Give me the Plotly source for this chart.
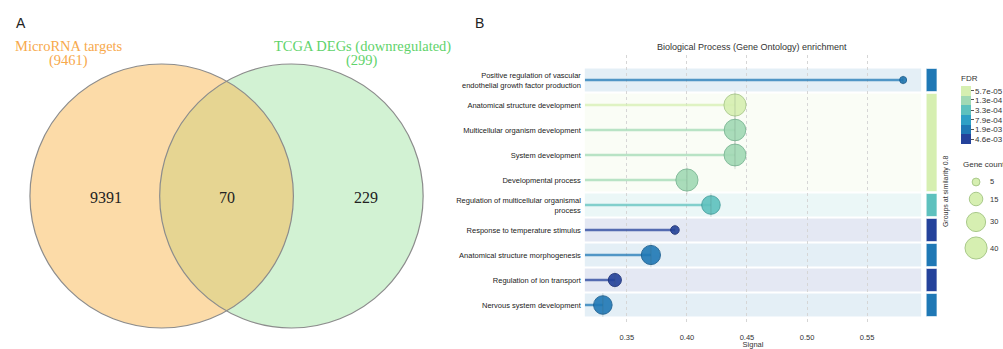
import math
import plotly.graph_objects as go

W, H = 1003, 349

# ---------------- Panel A data (Venn) ----------------
venn_set_names = ["MicroRNA targets", "TCGA DEGs (downregulated)"]
venn_set_sizes = [9461, 299]
venn_region_counts = [9391, 70, 229]   # left only, shared, right only

# ---------------- Panel B data (GO enrichment) ----------------
terms = [
    "Positive regulation of vascular<br>endothelial growth factor production",
    "Anatomical structure development",
    "Multicellular organism development",
    "System development",
    "Developmental process",
    "Regulation of multicellular organismal<br>process",
    "Response to temperature stimulus",
    "Anatomical structure morphogenesis",
    "Regulation of ion transport",
    "Nervous system development",
]
signal = [0.58, 0.44, 0.44, 0.44, 0.40, 0.42, 0.39, 0.37, 0.34, 0.33]
gene_count = [4, 40, 38, 39, 40, 28, 6, 30, 14, 28]
fdr = [1.9e-03, 5.7e-05, 1.3e-04, 1.3e-04, 1.3e-04, 3.3e-04, 4.6e-03, 1.9e-03, 4.6e-03, 1.9e-03]
group = [1, 2, 2, 2, 2, 3, 4, 5, 6, 7]
x_ticks = [0.35, 0.40, 0.45, 0.50, 0.55]
fdr_legend = [5.7e-05, 1.3e-04, 3.3e-04, 7.9e-04, 1.9e-03, 4.6e-03]
fdr_legend_text = ["5.7e-05", "1.3e-04", "3.3e-04", "7.9e-04", "1.9e-03", "4.6e-03"]
count_legend = [5, 15, 30, 40]

# ---------------- styles ----------------
fdr_colors = ["#d6efb1", "#a1d9b4", "#5ec1be", "#2fa0c6", "#1f78b5", "#24429b"]
fdr_edges = ["#a9c98a", "#78b592", "#3d9c9a", "#1f7ea0", "#175c8f", "#1a2f78"]
X_LO, X_HI = 0.315, 0.595


def hex_rgba(h, a):
    h = h.lstrip("#")
    return "rgba(%d,%d,%d,%.3f)" % (int(h[0:2], 16), int(h[2:4], 16), int(h[4:6], 16), a)


def fdr_bin(f):
    lv = math.log10(f)
    return min(range(len(fdr_legend)), key=lambda k: abs(math.log10(fdr_legend[k]) - lv))


def diam(c):
    return 3.5 * math.sqrt(c)


rows = list(range(len(terms)))
row_color = [fdr_colors[fdr_bin(f)] for f in fdr]
row_edge = [fdr_edges[fdr_bin(f)] for f in fdr]
vals = [-math.log10(f) for f in fdr]
leg_vals = [-math.log10(f) for f in fdr_legend]
step = (max(leg_vals) - min(leg_vals)) / (len(leg_vals) - 1)
cmin = min(leg_vals) - step / 2
cmax = max(leg_vals) + step / 2
n = len(fdr_colors)
cs = []
for k, col in enumerate(reversed(fdr_colors)):
    cs.append([k / n, col])
    cs.append([(k + 1) / n, col])

fig = go.Figure()

# ---------------- Panel A ----------------
c1 = (162.0, 196.0)
c2 = (292.0, 196.0)
R = 132.0
shapes = []
shapes.append(dict(type="circle", xref="x2", yref="y2", x0=c1[0] - R, x1=c1[0] + R,
                   y0=c1[1] - R, y1=c1[1] + R, fillcolor="#fcdba8", line=dict(width=0), layer="below"))
shapes.append(dict(type="circle", xref="x2", yref="y2", x0=c2[0] - R, x1=c2[0] + R,
                   y0=c2[1] - R, y1=c2[1] + R, fillcolor="#d2f2d3", line=dict(width=0), layer="below"))
d = c2[0] - c1[0]
a = math.degrees(math.acos((d / 2) / R))
pts = []
for i in range(61):
    t = math.radians(-a + 2 * a * i / 60)
    pts.append((c1[0] + R * math.cos(t), c1[1] + R * math.sin(t)))
for i in range(61):
    t = math.radians(180 - a + 2 * a * i / 60)
    pts.append((c2[0] + R * math.cos(t), c2[1] + R * math.sin(t)))
path = "M " + " L ".join("%.2f,%.2f" % p for p in pts) + " Z"
shapes.append(dict(type="path", xref="x2", yref="y2", path=path, fillcolor="#e6d592",
                   line=dict(width=0), layer="below"))
for c in (c1, c2):
    shapes.append(dict(type="circle", xref="x2", yref="y2", x0=c[0] - R, x1=c[0] + R,
                       y0=c[1] - R, y1=c[1] + R, line=dict(color="#8c8c8c", width=1.2)))

annotations = []
serif = "Liberation Serif, Times New Roman, serif"


def ann(x, y, text, size, color, family, xref="paper", yref="paper", xanchor="center", **kw):
    if xref == "paper":
        x = x / W
    if yref == "paper":
        y = 1 - y / H
    d = dict(x=x, y=y, xref=xref, yref=yref, text=text, showarrow=False,
             xanchor=xanchor, yanchor="middle",
             font=dict(family=family, size=size, color=color))
    d.update(kw)
    annotations.append(d)


ann(69, 46, venn_set_names[0], 14.5, "#f7a94c", serif, "x2", "y2")
ann(69, 60, "(%d)" % venn_set_sizes[0], 14.5, "#f7a94c", serif, "x2", "y2")
ann(363, 46, venn_set_names[1], 14.5, "#5fd36b", serif, "x2", "y2")
ann(363, 60, "(%d)" % venn_set_sizes[1], 14.5, "#5fd36b", serif, "x2", "y2")
for xx, cnt in zip([106, 227, 367], venn_region_counts):
    ann(xx, 197, str(cnt), 16, "#222222", serif, "x2", "y2")

sans = "Liberation Sans, Arial, sans-serif"
ann(21, 23, "A", 14, "#222", sans)
ann(480, 23, "B", 14, "#222", sans)

# ---------------- Panel B ----------------
for g in sorted(set(group)):
    idx = [i for i in rows if group[i] == g]
    best = min(idx, key=lambda i: fdr[i])
    gc = row_color[best]
    y0, y1 = min(idx) - 0.46, max(idx) + 0.46
    shapes.append(dict(type="rect", xref="x3 domain", yref="y3", x0=0, x1=1, y0=y0, y1=y1,
                       fillcolor=hex_rgba(gc, 0.12), line=dict(width=0), layer="below"))
    shapes.append(dict(type="rect", xref="x3 domain", yref="y3", x0=1.015, x1=1.047, y0=y0, y1=y1,
                       fillcolor=gc, line=dict(width=0.6, color="white")))

for i in rows:
    fig.add_trace(go.Scatter(x=[X_LO, signal[i]], y=[i, i], mode="lines", xaxis="x3", yaxis="y3",
                             line=dict(color=hex_rgba(row_color[i], 0.75), width=2.6),
                             hoverinfo="skip", showlegend=False))

sizes = [diam(c) for c in gene_count]
fig.add_trace(go.Scatter(
    x=signal, y=rows, mode="markers", xaxis="x3", yaxis="y3", showlegend=False,
    marker=dict(size=sizes, color=vals, colorscale=cs, cmin=cmin, cmax=cmax, opacity=0.9,
                line=dict(color=row_edge, width=1),
                showscale=True,
                colorbar=dict(x=963 / W, xanchor="left", y=1 - 72 / H, yanchor="top",
                              len=72, lenmode="pixels", thickness=10, thicknessmode="pixels",
                              outlinewidth=0, xpad=0, ypad=0,
                              tickvals=leg_vals, ticktext=fdr_legend_text, ticks="outside",
                              ticklen=3, tickcolor="#555",
                              tickfont=dict(family=sans, size=8, color="#333"),
                              title=dict(text="FDR", side="top",
                                         font=dict(family=sans, size=8, color="#333")))),
    customdata=gene_count,
    hovertemplate="%{x}<br>Genes: %{customdata}<extra></extra>"))
fig.add_trace(go.Scatter(
    x=signal, y=rows, mode="markers", xaxis="x3", yaxis="y3", showlegend=False, hoverinfo="skip",
    marker=dict(symbol="line-ns", size=[s * 0.92 for s in sizes],
                line=dict(color="rgba(70,90,80,0.35)", width=0.8))))

ann(754, 47, "Biological Process (Gene Ontology) enrichment", 9, "#333", sans)
ann(948, 191, "Groups at similarity 0.8", 7, "#333", sans, textangle=-90)
ann(963, 165, "Gene count", 8, "#333", sans, xanchor="left")
for c, yy in zip(count_legend, [182, 199, 222, 248]):
    dd = diam(c)
    shapes.append(dict(type="circle", xref="paper", yref="paper", xsizemode="pixel",
                       ysizemode="pixel", xanchor=978 / W, yanchor=1 - yy / H,
                       x0=-dd / 2, x1=dd / 2, y0=-dd / 2, y1=dd / 2,
                       fillcolor="#d6efb1", line=dict(color="#a9c98a", width=1)))
    ann(990, yy, str(c), 7.5, "#333", sans, xanchor="left")

fig.update_layout(
    width=W, height=H, autosize=False,
    margin=dict(l=0, r=0, t=0, b=0),
    paper_bgcolor="white", plot_bgcolor="rgba(0,0,0,0)",
    shapes=shapes, annotations=annotations,
    xaxis=dict(visible=False), yaxis=dict(visible=False),
    xaxis2=dict(domain=[0, 440 / W], range=[0, 440], visible=False, fixedrange=True),
    yaxis2=dict(domain=[0, 1], range=[H, 0], visible=False, anchor="x2", fixedrange=True),
    xaxis3=dict(domain=[586 / W, 923 / W], range=[X_LO, X_HI], anchor="y3",
                tickvals=x_ticks, tickformat=".2f", showgrid=True, gridcolor="#d6d6d6",
                griddash="dot", gridwidth=1, zeroline=False, showline=False, ticks="",
                ticklabelstandoff=6,
                tickfont=dict(family=sans, size=7.5, color="#333"),
                title=dict(text="Signal", standoff=1, font=dict(family=sans, size=7.5, color="#333"))),
    yaxis3=dict(domain=[(H - 325) / H, (H - 55) / H], range=[9.8, -1], anchor="x3",
                tickvals=rows, ticktext=terms, showgrid=False, zeroline=False, showline=False,
                ticks="", ticklabelstandoff=3,
                tickfont=dict(family=sans, size=7.5, color="#222")),
)

fig.write_html("out.html", config={"displayModeBar": False},
               post_script="document.body.style.margin='0';document.body.style.overflow='hidden';")
